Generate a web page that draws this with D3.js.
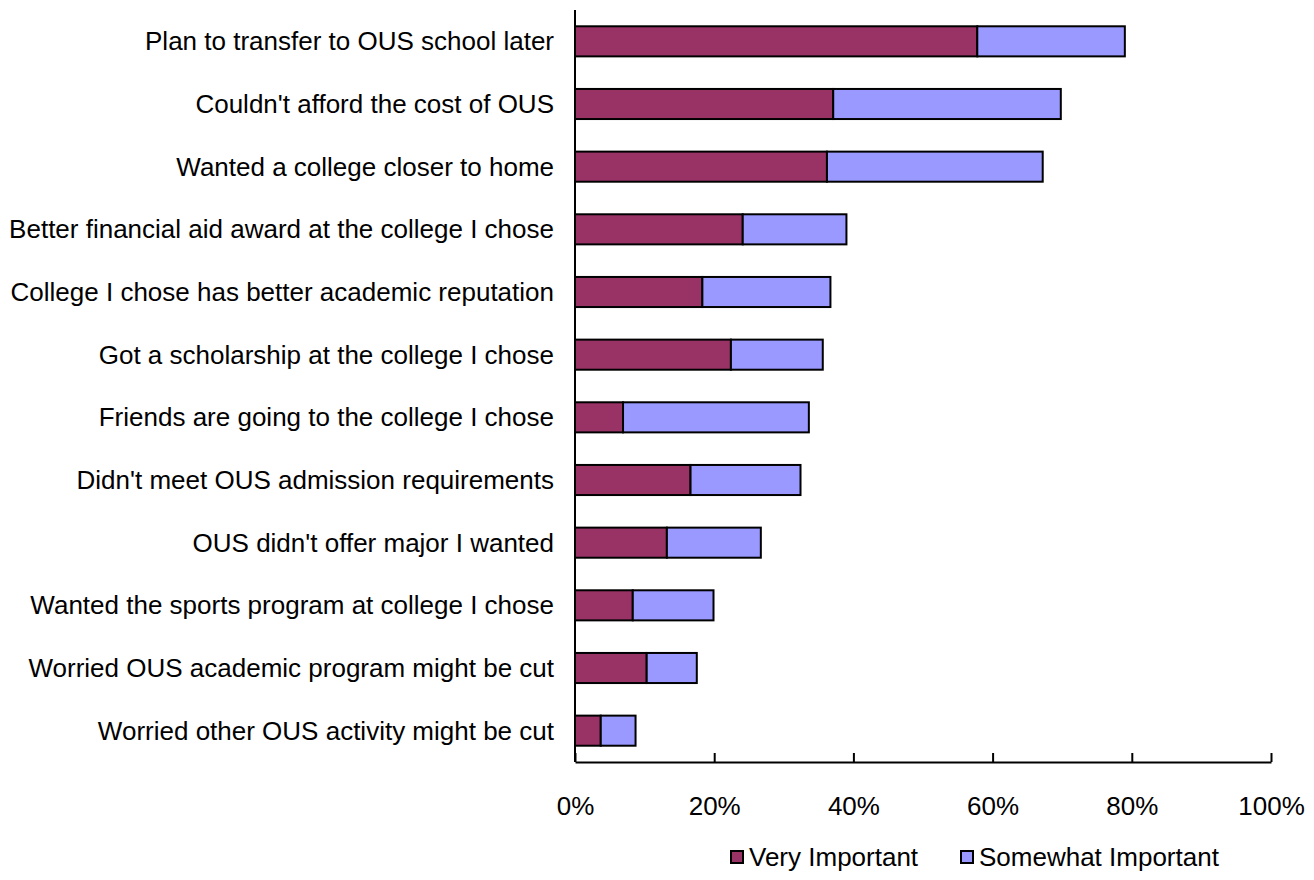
<!DOCTYPE html>
<html>
<head>
<meta charset="utf-8">
<script src="https://cdn.jsdelivr.net/npm/d3@7"></script>
<style>
  html, body { margin: 0; padding: 0; background: #fff; }
  svg { display: block; }
  text { font-family: "Liberation Sans", Arial, sans-serif; fill: #000; }
</style>
</head>
<body>
<svg id="chart" width="1314" height="880"></svg>
<script>
const categories = [
  "Plan to transfer to OUS school later",
  "Couldn't afford the cost of OUS",
  "Wanted a college closer to home",
  "Better financial aid award at the college I chose",
  "College I chose has better academic reputation",
  "Got a scholarship at the college I chose",
  "Friends are going to the college I chose",
  "Didn't meet OUS admission requirements",
  "OUS didn't offer major I wanted",
  "Wanted the sports program at college I chose",
  "Worried OUS academic program might be cut",
  "Worried other OUS activity might be cut"
];
const veryImportant     = [57.8, 37.1, 36.2, 24.1, 18.3, 22.4, 6.9, 16.6, 13.2, 8.3, 10.3, 3.7];
const somewhatImportant = [21.2, 32.7, 31.0, 14.9, 18.4, 13.2, 26.7, 15.8, 13.5, 11.6, 7.2, 5.0];
const seriesNames = ["Very Important", "Somewhat Important"];
const seriesColors = ["#993366", "#9999FF"];
const tickValues = [0, 20, 40, 60, 80, 100];

(function () {
const svg = d3.select("#chart");
const mLeft = 575, mRight = 1271, mTop = 10, mBottom = 762;
const fs = 26;

const x = d3.scaleLinear().domain([0, 100]).range([mLeft, mRight]);
const y = d3.scaleBand().domain(categories).range([mTop, mBottom]).paddingInner(0.52).paddingOuter(0.26);

const rows = categories.map((c, i) => ({ cat: c, very: veryImportant[i], some: somewhatImportant[i] }));
const stacked = d3.stack().keys(["very", "some"])(rows);

const g = svg.append("g");
stacked.forEach((layer, li) => {
  g.selectAll(null).data(layer).enter().append("rect")
    .attr("x", d => x(d[0]))
    .attr("y", d => y(d.data.cat))
    .attr("width", d => x(d[1]) - x(d[0]))
    .attr("height", y.bandwidth())
    .attr("fill", seriesColors[li])
    .attr("stroke", "#000")
    .attr("stroke-width", 2);
});

svg.append("line").attr("x1", mLeft).attr("x2", mLeft).attr("y1", mTop).attr("y2", mBottom)
  .attr("stroke", "#000").attr("stroke-width", 2);

svg.selectAll(".cat").data(categories).enter().append("text")
  .attr("class", "cat")
  .attr("x", mLeft - 21)
  .attr("y", d => y(d) + y.bandwidth() / 2)
  .attr("dy", "0.35em")
  .attr("text-anchor", "end")
  .attr("font-size", fs)
  .text(d => d);

const xAxis = d3.axisBottom(x).tickValues(tickValues).tickSizeInner(-9).tickSizeOuter(0).tickFormat(d => d + "%");
const ax = svg.append("g").attr("transform", `translate(0,${mBottom})`).call(xAxis);
ax.select(".domain").attr("stroke", "#000").attr("stroke-width", 2);
ax.selectAll(".tick line").attr("stroke", "#000").attr("stroke-width", 2);
ax.selectAll(".tick text").attr("font-size", fs).attr("y", 44).attr("dy", "0.35em")
  .attr("font-family", "Liberation Sans, Arial, sans-serif").attr("fill", "#000");

const legendX = [731, 961];
seriesNames.forEach((name, i) => {
  const lg = svg.append("g").attr("transform", `translate(${legendX[i]},857)`);
  lg.append("rect").attr("x", 0).attr("y", -6).attr("width", 12).attr("height", 12)
    .attr("fill", seriesColors[i]).attr("stroke", "#000").attr("stroke-width", 2);
  lg.append("text").attr("x", 18).attr("y", 0).attr("dy", "0.35em").attr("font-size", fs).text(name);
});
})();
</script>
</body>
</html>
